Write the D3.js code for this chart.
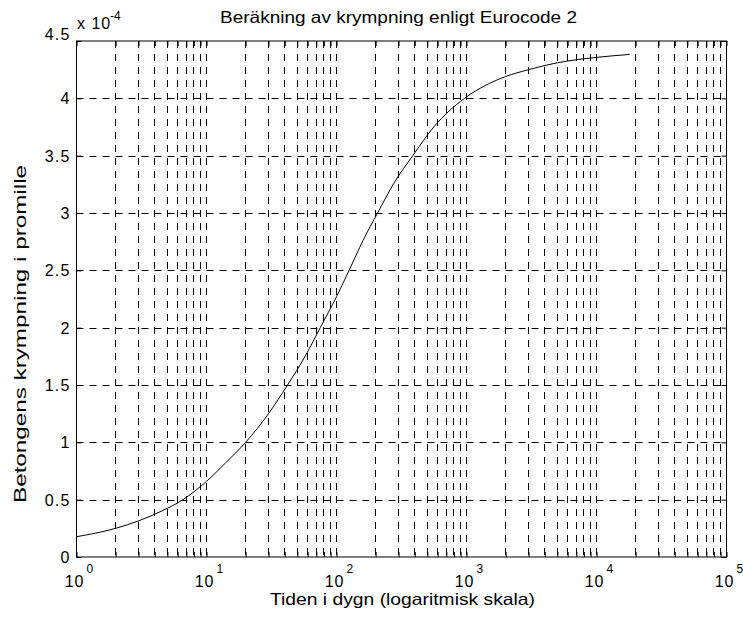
<!DOCTYPE html>
<html>
<head>
<meta charset="utf-8">
<script src="https://cdn.jsdelivr.net/npm/d3@7"></script>
<style>
  body { margin: 0; background: #fff; }
  text { font-family: "Liberation Sans", Arial, sans-serif; fill: #000; }
</style>
</head>
<body>
<div id="chart"></div>
<script>
// data (y in units of 1e-4)
var days = [1, 2, 3, 4.5, 6.6, 10, 14, 20, 30, 42, 58, 75, 100, 125, 160, 207, 280, 386, 560, 966, 1500, 2000, 3000, 5000, 10000, 18000];
var shrinkage = [0.177, 0.25, 0.315, 0.40, 0.50, 0.66, 0.82, 1.0, 1.25, 1.5, 1.76, 2.0, 2.27, 2.5, 2.76, 3.0, 3.27, 3.5, 3.75, 4.0, 4.13, 4.19, 4.25, 4.31, 4.357, 4.383];
var xMajor = [1, 10, 100, 1000, 10000, 100000];
var xExponents = ["0", "1", "2", "3", "4", "5"];
var yTicks = [0, 0.5, 1, 1.5, 2, 2.5, 3, 3.5, 4, 4.5];

var svgWidth = 743;
var svgHeight = 620;
var margin = { top: 41, right: 16.5, bottom: 63, left: 76.5 };
var width = svgWidth - margin.left - margin.right;
var height = svgHeight - margin.top - margin.bottom;

var svg = d3.select("#chart")
  .append("svg")
  .attr("width", svgWidth)
  .attr("height", svgHeight);

svg.append("rect").attr("width", svgWidth).attr("height", svgHeight).attr("fill", "#fff");

var chartGroup = svg.append("g")
  .attr("transform", `translate(${margin.left}, ${margin.top})`);

// scales
var xScale = d3.scaleLog().domain([1, 100000]).range([0, width]);
var yScale = d3.scaleLinear().domain([0, 4.5]).range([height, 0]);

// minor x values 2..9 in each decade
var xMinor = [];
xMajor.slice(0, 5).forEach(function(d) {
  for (var k = 2; k <= 9; k++) xMinor.push(d * k);
});
var xGrid = xMajor.concat(xMinor).filter(d => d > 1 && d < 100000);

function crisp(v) { return Math.round(v) + 0.5; }

// vertical grid
chartGroup.append("g")
  .selectAll("line")
  .data(xGrid)
  .enter().append("line")
  .attr("x1", d => crisp(xScale(d)) - 0.5)
  .attr("x2", d => crisp(xScale(d)) - 0.5)
  .attr("y1", 0)
  .attr("y2", height)
  .attr("stroke", "#000")
  .attr("stroke-width", 1)
  .attr("stroke-dasharray", "7,6");

// horizontal grid
chartGroup.append("g")
  .selectAll("line")
  .data(yTicks.filter(d => d > 0 && d < 4.5))
  .enter().append("line")
  .attr("x1", 0)
  .attr("x2", width)
  .attr("y1", d => crisp(yScale(d)))
  .attr("y2", d => crisp(yScale(d)))
  .attr("stroke", "#000")
  .attr("stroke-width", 1)
  .attr("stroke-dasharray", "7,6");

// axes (inside ticks on all sides)
var yAxis = d3.axisLeft(yScale).tickValues(yTicks).tickSize(-5).tickSizeOuter(0).tickPadding(6).tickFormat(d3.format(""));
var yAxisRight = d3.axisRight(yScale).tickValues(yTicks).tickSize(-5).tickSizeOuter(0).tickFormat("");
var xAxis = d3.axisBottom(xScale).tickValues(xMajor.concat(xMinor)).tickSize(-5).tickSizeOuter(0).tickFormat("");
var xAxisTop = d3.axisTop(xScale).tickValues(xMajor.concat(xMinor)).tickSize(-5).tickSizeOuter(0).tickFormat("");

var gy = chartGroup.append("g").call(yAxis);
chartGroup.append("g").attr("transform", `translate(${width}, 0)`).call(yAxisRight);
chartGroup.append("g").attr("transform", `translate(0, ${height})`).call(xAxis);
chartGroup.append("g").call(xAxisTop);

chartGroup.selectAll(".domain").remove();
chartGroup.selectAll(".tick line").attr("stroke", "#000");

gy.selectAll("text")
  .attr("font-family", "Liberation Sans, Arial, sans-serif")
  .attr("font-size", 16)
  .attr("letter-spacing", 1.2)
  .attr("dy", d => d === 4.5 ? "-0.1em" : "0.34em");

// box
chartGroup.append("rect")
  .attr("x", 0)
  .attr("y", 0)
  .attr("width", width)
  .attr("height", height)
  .attr("fill", "none")
  .attr("stroke", "#000")
  .attr("stroke-width", 1);

// x tick labels 10^n
chartGroup.append("g")
  .selectAll("text")
  .data(xMajor)
  .enter().append("text")
  .attr("x", d => xScale(d) + 8)
  .attr("y", height + 30)
  .attr("font-size", 16)
  .attr("text-anchor", "end")
  .attr("letter-spacing", 1)
  .text("10");

chartGroup.append("g")
  .selectAll("text")
  .data(xMajor)
  .enter().append("text")
  .attr("x", d => xScale(d) + 10)
  .attr("y", height + 16)
  .attr("font-size", 12)
  .text((d, i) => xExponents[i]);

// curve
var points = days.map((d, i) => [d, shrinkage[i]]);
var line = d3.line()
  .x(d => xScale(d[0]))
  .y(d => yScale(d[1]))
  .curve(d3.curveMonotoneX);

chartGroup.append("path")
  .datum(points)
  .attr("d", line)
  .attr("fill", "none")
  .attr("stroke", "#000")
  .attr("stroke-width", 1);

// exponent note above y axis
svg.append("text")
  .attr("x", 77)
  .attr("y", 29)
  .attr("font-size", 16)
  .attr("letter-spacing", 1)
  .text("x 10");
svg.append("text")
  .attr("x", 110)
  .attr("y", 20)
  .attr("font-size", 12)
  .text("-4");

// title
svg.append("text")
  .attr("x", 220)
  .attr("y", 23)
  .attr("font-size", 16.5)
  .attr("textLength", 357)
  .attr("lengthAdjust", "spacingAndGlyphs")
  .text("Beräkning av krympning enligt Eurocode 2");

// axes labels
svg.append("text")
  .attr("x", 270)
  .attr("y", 605)
  .attr("font-size", 16.5)
  .attr("textLength", 265)
  .attr("lengthAdjust", "spacingAndGlyphs")
  .text("Tiden i dygn (logaritmisk skala)");

svg.append("text")
  .attr("transform", "translate(26, 503) rotate(-90)")
  .attr("x", 0)
  .attr("y", 0)
  .attr("font-size", 16.5)
  .attr("textLength", 338)
  .attr("lengthAdjust", "spacingAndGlyphs")
  .text("Betongens krympning i promille");
</script>
</body>
</html>
